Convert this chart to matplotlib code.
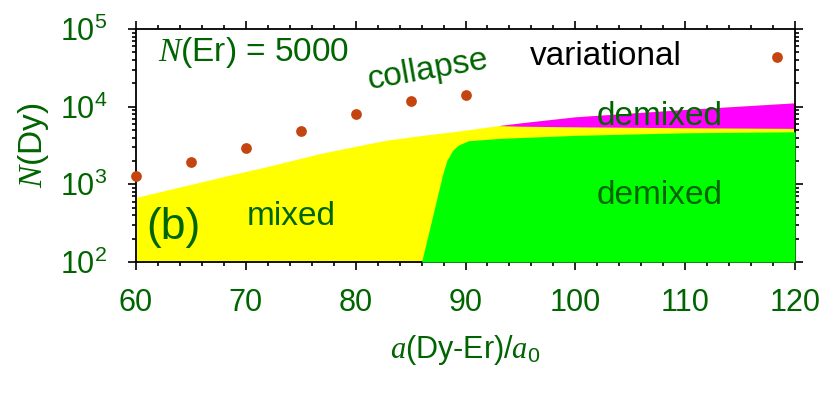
import matplotlib
matplotlib.use("Agg")
import matplotlib.pyplot as plt
from matplotlib.ticker import LogLocator, MultipleLocator, NullFormatter
import numpy as np

plt.rcParams['font.family'] = ['Liberation Sans', 'DejaVu Sans']
plt.rcParams['mathtext.fontset'] = 'custom'
plt.rcParams['mathtext.it'] = 'Liberation Serif:italic'
plt.rcParams['mathtext.rm'] = 'Liberation Sans'

GREEN_TXT = "#006400"

# variational collapse points
a_var = [60, 65, 70, 75, 80, 85, 90]
n_var = [1290, 1920, 2900, 4850, 8030, 11800, 14100]

# upper boundary of mixed (yellow) region, then top of magenta region
a_top = [60, 64, 68.6, 72, 76.8, 80, 82.8, 86, 88.9, 93, 95, 100, 110, 120]
n_top = [680, 925, 1320, 1700, 2500, 3090, 3700, 4260, 4760, 5700, 6180, 7400, 9200, 11200]

# magenta (upper demixed) region
a_mag = [93, 95, 100, 110, 120]
n_mag_lo = [5700, 5600, 5500, 5350, 5250]
n_mag_hi = [5700, 6180, 7400, 9200, 11200]

# green (demixed) region upper edge
a_grn = [86.0, 87.7, 87.9, 88.3, 88.84, 89.35, 90.26, 93.1, 100, 110, 120]
n_grn = [100, 1000, 1320, 2030, 2760, 3200, 3640, 3900, 4270, 4610, 4750]

fig = plt.figure(figsize=(8.3, 3.96), dpi=100)
ax = fig.add_axes([0.1639, 0.3384, 0.7939, 0.5884])

ax.fill_between(a_top, 100, n_top, color="#ffff00", lw=0, zorder=1)
ax.fill_between(a_mag, n_mag_lo, n_mag_hi, color="#ff00ff", lw=0, zorder=2)
ax.fill_between(a_grn, 100, n_grn, color="#00ff00", lw=0, zorder=3)
ax.scatter(a_var, n_var, s=60, color="#c4450f", lw=0, zorder=5, clip_on=False)
ax.scatter([118.4], [43600], s=60, color="#c4450f", lw=0, zorder=5)

ax.set_yscale("log")
ax.set_xlim(60, 120)
ax.set_ylim(100, 1e5)
ax.xaxis.set_major_locator(MultipleLocator(10))
ax.xaxis.set_minor_locator(MultipleLocator(2))
ax.yaxis.set_major_locator(LogLocator(base=10, numticks=10))
ax.yaxis.set_minor_locator(LogLocator(base=10, subs=np.arange(2, 10), numticks=20))
ax.yaxis.set_minor_formatter(NullFormatter())
ax.tick_params(which="both", direction="out", top=True, right=True,
               colors="black", labelcolor=GREEN_TXT, labelsize=22, width=1.2)
ax.tick_params(which="major", length=5.8)
ax.tick_params(which="minor", length=3)
ax.tick_params(axis="x", which="major", pad=13)
ax.tick_params(axis="y", which="major", pad=15)
for s in ax.spines.values():
    s.set_linewidth(1.3)

ax.set_xlabel(r"$a$(Dy-Er)/$a_0$", fontsize=22, color=GREEN_TXT)
ax.set_ylabel(r"$N$(Dy)", fontsize=24, color=GREEN_TXT)
ax.xaxis.set_label_coords(0.5, -0.378)
ax.xaxis.label.set_va("center")
ax.yaxis.set_label_coords(-0.156, 0.502)
ax.yaxis.label.set_va("center")

ax.text(62.0, 50000, r"$N$(Er) = 5000", fontsize=24, color=GREEN_TXT, va="center", ha="left")
ax.text(86.6, 29600, "collapse", fontsize=24, color=GREEN_TXT, va="center", ha="center", rotation=10)
ax.text(102.8, 43600, "variational", fontsize=24, color="black", va="center", ha="center")
ax.text(107.7, 7570, "demixed", fontsize=24, color=GREEN_TXT, va="center", ha="center", zorder=6)
ax.text(107.7, 728, "demixed", fontsize=24, color=GREEN_TXT, va="center", ha="center", zorder=6)
ax.text(74.1, 390, "mixed", fontsize=24, color=GREEN_TXT, va="center", ha="center", zorder=6)
ax.text(63.4, 274, "(b)", fontsize=32, color=GREEN_TXT, va="center", ha="center", zorder=6)

fig.savefig("out.png", dpi=100)
